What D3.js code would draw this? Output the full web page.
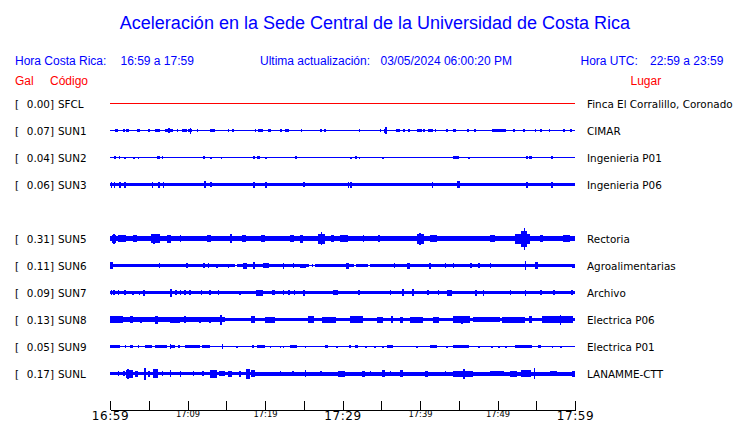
<!DOCTYPE html>
<html><head><meta charset="utf-8">
<script src="https://cdn.jsdelivr.net/npm/d3@7"></script>
<style>body{margin:0;background:#fff}svg{display:block}</style>
</head><body><svg id="c" width="740" height="423"></svg>
<script>
// ---- data ----
const slots = ["SFCL","SUN1","SUN2","SUN3","SUN4","SUN5","SUN6","SUN7","SUN8","SUN9","SUNL"];
const stations = ["SFCL","SUN1","SUN2","SUN3","SUN5","SUN6","SUN7","SUN8","SUN9","SUNL"];
const gal = [0.00,0.07,0.04,0.06,0.31,0.11,0.09,0.13,0.05,0.17];
const places = ["Finca El Corralillo, Coronado","CIMAR","Ingenieria P01","Ingenieria P06","Rectoria","Agroalimentarias","Archivo","Electrica P06","Electrica P01","LANAMME-CTT"];
const tickMinutes = [0,5,10,15,20,25,30,35,40,45,50,55,60];
const labelMinutes = [0,10,20,30,40,50,60];
const tickLabels = ["16:59","17:09","17:19","17:29","17:39","17:49","17:59"];
const bigLabels = ["16:59","17:29","17:59"];
// trace envelopes: [startMinute, endMinute, halfAmplitude]
const sfcl = [[0,60,0.5]];
const sun1 = [[0,60,0.5],[0.6,1.0,1.5],[1.7,1.9,1.5],[2.1,2.3,1.2],[2.3,2.5,1.2],[3.5,3.9,1.5],[4.9,5.2,1.5],[5.8,6.5,1.5],[7.1,8.1,1.5],[7.5,7.7,2.5],[8.6,8.8,1.5],[9.3,9.9,1.5],[10.1,10.6,1.5],[10.3,10.5,3],[11.2,11.4,1.5],[12.9,13.5,1.5],[15.2,15.4,1.2],[15.8,16.0,1.2],[18.7,18.9,1.2],[19.1,19.7,1.5],[20.4,20.6,1.2],[20.6,20.8,1.2],[21.9,22.2,1.5],[22.6,23.1,1.5],[24.6,24.8,1.2],[27.1,27.3,1.2],[27.6,27.9,1.5],[32.1,32.3,1.2],[34.8,35.0,1.2],[35.4,35.8,2],[35.5,35.7,3.5],[36.9,37.1,1.2],[37.2,37.4,1.2],[37.8,38.0,1.2],[38.5,38.7,1.2],[39.6,40.3,1.5],[40.4,40.6,1.5],[41.0,41.7,1.5],[41.9,42.1,1.2],[43.4,43.6,1.5],[44.3,44.6,1.5],[46.1,46.3,1.5],[47.0,47.2,1.2],[49.3,51.1,1.5],[52.0,52.2,1.5],[53.3,53.6,1.5],[54.8,55.0,1.2],[55.5,55.7,1.2],[56.6,56.8,1.5],[58.5,58.7,1.2],[59.4,59.6,1.2]];
const sun2 = [[0,60,0.5],[0.5,0.8,1.5],[1.1,1.3,1.5],[1.8,2.0,1],[3.0,3.2,1],[3.6,3.8,1],[6.1,6.4,1.5],[6.7,6.9,1.5],[12.0,12.3,1.5],[12.9,13.1,1],[14.3,14.5,1],[18.5,18.7,1.5],[19.0,19.3,1.5],[20.0,20.2,1],[23.9,24.1,1.5],[31.0,31.2,1],[31.6,31.9,1.5],[32.1,32.3,1],[35.1,35.3,1],[44.3,45.0,1.5],[46.2,46.4,1],[53.7,53.9,1.5],[54.1,54.5,1.5],[56.9,57.1,1.5]];
const sun3 = [[0,60,1.75],[0.1,0.3,3],[0.5,0.7,3],[1.2,1.4,3],[1.8,2.0,3],[5.4,5.6,3],[6.2,6.4,3],[6.8,7.0,3],[12.1,12.4,3.5],[12.9,13.1,2.5],[18.5,18.7,3],[20.0,20.2,3],[24.9,25.1,2.5],[30.7,30.9,3],[31.0,31.2,3],[41.5,41.7,3],[44.8,45.1,3.5],[53.7,53.9,3],[56.9,57.1,3]];
const sun5 = [[0,60,2.5],[0.2,0.8,4],[0.4,0.6,5],[1.0,2.0,3.5],[3.0,3.5,3.5],[5.3,6.5,4.5],[5.6,5.8,5],[7.4,7.9,4],[9.0,9.2,3.5],[12.5,13.0,3.5],[15.5,15.7,4.5],[17.0,17.5,3.5],[19.5,20.0,3.5],[23.2,23.8,3.5],[24.5,24.9,4],[26.8,27.7,5],[27.2,27.4,6.5],[28.5,28.9,3.5],[29.7,30.7,3.5],[32.6,32.8,3.5],[34.6,34.8,3.5],[39.6,40.5,5],[39.9,40.1,6],[41.3,42.2,3.5],[49.0,49.7,3.5],[52.3,53.0,5],[53.0,53.8,8],[53.4,53.6,11],[53.8,54.2,5],[55.5,55.9,3.5],[58.5,59.3,3.5]];
const sun6 = [[0,60,0.5],[0,16.1,1.6],[16.4,25.7,1.6],[26.5,31.5,1.6],[31.8,33.3,1.6],[33.5,60,1.6],[0,0.4,3.5],[6.3,6.5,2.5],[9.8,10.0,2.5],[12.0,12.2,2.5],[12.6,12.8,2.5],[13.7,13.9,2],[15.2,15.4,2],[17.1,17.7,3],[18.5,18.7,3.5],[19.8,20.5,2.5],[22.3,22.5,3],[23.6,23.8,2.5],[24.5,25.3,2],[26.0,26.2,1.5],[30.4,30.9,3],[36.6,36.8,2.5],[38.3,38.7,3],[41.2,41.4,3],[43.2,43.4,2.5],[44.2,44.4,2.5],[46.5,46.7,2.5],[47.5,47.7,2.5],[49.0,49.2,2.5],[53.5,53.7,4.5],[54.8,55.2,3.5],[59.6,60,2]];
const sun7 = [[0,60,1.5],[0.1,0.3,2.5],[0.4,0.6,2.5],[1.0,1.2,2.5],[1.8,2.0,2.5],[2.9,3.1,2],[3.7,3.9,2],[4.3,4.5,3],[7.7,8.0,4],[8.4,8.6,2.5],[9.0,9.2,2.5],[9.6,9.8,2.5],[10.2,10.4,2.5],[11.7,11.9,2.5],[12.8,13.0,2.5],[13.9,14.1,2.5],[16.7,16.9,2],[18.9,19.8,3],[20.9,21.3,2.5],[22.3,22.5,2.5],[23.0,23.2,2.5],[23.7,23.9,2.5],[24.9,25.1,3],[28.8,29.4,2.5],[32.0,32.2,2.5],[36.1,36.3,2.5],[37.7,37.9,3.5],[39.0,39.2,3.5],[40.9,41.1,2.5],[42.3,42.5,2.5],[43.5,44.1,3],[47.1,47.3,3],[48.1,48.3,3],[51.6,51.8,2.5],[53.5,53.7,3],[55.5,55.7,2.5],[57.2,57.4,2.5],[59.5,59.7,2.5]];
const sun8 = [[0,14.8,2.3],[14.8,60,1.8],[0,1.7,3.5],[2.6,3.0,3.5],[3.9,4.1,3],[5.8,6.2,4],[7.7,9.0,3],[9.6,9.8,3.5],[11.5,11.7,3],[12.8,13.0,3],[14.2,14.4,5],[18.2,18.7,3.5],[20.0,21.3,3],[25.6,26.3,3.5],[27.4,29.2,3],[31.0,32.6,3.5],[34.4,35.2,3],[36.3,36.5,3.5],[37.4,37.8,3],[38.7,40.4,3],[41.7,42.4,3],[44.2,46.5,3.5],[45.3,45.5,4],[46.8,50.3,2.5],[50.6,53.6,3],[54.0,54.4,3.5],[55.8,59.7,3.5],[58.0,58.2,5]];
const sun9 = [[0,60,0.5],[0,1.3,1.5],[1.9,2.1,1.5],[2.6,3.0,1.5],[3.6,3.8,1.5],[4.5,5.4,1.5],[5.8,7.4,1.5],[7.7,7.9,2.5],[7.7,8.4,1.5],[8.8,9.0,1.5],[9.7,11.6,1.5],[11.9,12.9,1.5],[14.4,14.6,2.5],[16.3,16.5,1],[18.3,18.6,1.5],[19.0,20.0,1.5],[20.6,20.8,1],[21.9,22.1,1],[22.3,22.5,1],[23.2,24.1,1.5],[25.1,25.3,1],[27.7,28.1,1.5],[29.2,29.4,1],[30.9,31.1,1.5],[31.6,32.0,1.5],[32.9,33.1,1],[34.1,34.3,1],[35.1,35.3,1],[35.8,36.5,1.5],[39.5,39.7,1],[41.3,42.2,1.5],[43.4,43.6,1],[44.3,46.3,1.5],[47.5,47.7,1],[49.2,49.4,1],[50.1,50.3,1],[51.0,51.2,1],[52.2,54.5,1.5],[55.2,55.6,1.5],[57.0,57.2,1],[58.1,58.3,1]];
const sunl = [[0,18.5,1.3],[18.5,60,2.0],[1.0,1.2,2.5],[1.7,1.9,2.5],[2.1,3.0,4],[2.2,2.4,5],[3.2,3.6,3],[4.4,4.6,6],[4.9,5.2,3],[5.6,6.2,4.5],[6.7,6.9,2.5],[7.7,7.9,3.5],[9.0,9.2,3],[10.7,10.9,2.5],[11.9,12.1,2.5],[12.9,13.8,4],[14.0,14.8,2.5],[15.2,15.8,3],[16.7,16.9,3],[17.6,18.1,5],[18.2,18.7,3.5],[21.9,22.1,2.5],[23.5,23.7,2.5],[25.1,25.3,3.5],[27.1,27.3,2.5],[29.4,30.3,3],[32.5,32.9,3],[33.5,33.7,2.5],[35.1,35.5,3.5],[36.1,36.3,2.5],[37.4,37.8,3.5],[40.6,41.0,3],[43.2,43.4,2.5],[44.2,46.8,3],[45.6,45.8,5],[49.0,50.9,2.8],[51.6,52.5,3],[53.0,54.3,3.5],[54.7,54.9,5.5],[56.8,57.7,2.5],[59.6,60,3]];
const traces = [sfcl,sun1,sun2,sun3,sun5,sun6,sun7,sun8,sun9,sunl];

// ---- drawing ----
const BLUE = "#0000ff", RED = "#ff0000";
const svg = d3.select("#c");
svg.append("rect").attr("width",740).attr("height",423).attr("fill","#fff");
const x = d3.scaleLinear().domain([0,60]).range([110,575]);
const y = d3.scalePoint().domain(slots).range([103.5,373.5]);
const amp = d3.scaleLinear().domain([0,10]).range([0,10]);

const hdr = "'Liberation Sans', Arial, Helvetica, sans-serif";
const lab = "'DejaVu Sans', Verdana, sans-serif";

svg.append("text").attr("x",375).attr("y",29).attr("text-anchor","middle")
  .attr("font-family",hdr).attr("font-size",18).attr("fill",BLUE)
  .text("Aceleración en la Sede Central de la Universidad de Costa Rica");
const h2 = [["Hora Costa Rica:",15],["16:59 a 17:59",120.5],["Ultima actualización:",260],["03/05/2024 06:00:20 PM",380.5],["Hora UTC:",580.5],["22:59 a 23:59",650]];
h2.forEach(d=>svg.append("text").attr("x",d[1]).attr("y",65).attr("font-family",hdr)
  .attr("font-size",12).attr("fill",BLUE).text(d[0]));
[["Gal",15],["Código",50],["Lugar",630.5]].forEach(d=>svg.append("text").attr("x",d[1]).attr("y",85)
  .attr("font-family",hdr).attr("font-size",12).attr("fill",RED).text(d[0]));

const rows = svg.append("g");
stations.forEach((s,i)=>{
  const cy = y(s);
  const g = rows.append("g");
  g.selectAll("rect").data(traces[i]).join("rect")
    .attr("x",d=>x(d[0])).attr("width",d=>Math.max(1,x(d[1])-x(d[0])))
    .attr("y",d=>cy-amp(d[2])).attr("height",d=>2*amp(d[2]))
    .attr("fill",i===0?RED:BLUE).attr("shape-rendering","crispEdges");
  const t = g.append("g").attr("font-family",lab).attr("font-size",10.4).attr("fill","#000");
  t.append("text").attr("x",15).attr("y",cy+4).text("[");
  t.append("text").attr("x",54).attr("y",cy+4).attr("text-anchor","end").text(gal[i].toFixed(2)+"]");
  t.append("text").attr("x",58).attr("y",cy+4).text(s);
  t.append("text").attr("x",587).attr("y",cy+4).text(places[i]);
});

const axis = d3.axisBottom(x).tickValues(tickMinutes).tickSizeInner(-9).tickSizeOuter(0).tickPadding(2)
  .tickFormat(m=>{const k=labelMinutes.indexOf(m);return k>=0?tickLabels[k]:"";});
const ag = svg.append("g").attr("transform","translate(0,409.5)").call(axis);
ag.selectAll("path,line").attr("stroke","#000").attr("shape-rendering","crispEdges");
ag.selectAll("text").attr("fill","#000").attr("font-family",lab)
  .attr("font-size",t=>bigLabels.includes(tickLabels[labelMinutes.indexOf(t)])?12:8.3)
  .attr("letter-spacing",t=>bigLabels.includes(tickLabels[labelMinutes.indexOf(t)])?0.6:0);
</script></body></html>
